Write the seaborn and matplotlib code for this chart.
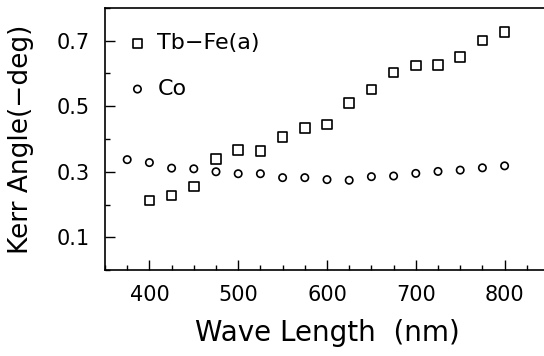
import numpy as np
import pandas as pd
import matplotlib
matplotlib.use('Agg')
import matplotlib.pyplot as plt
from matplotlib.ticker import MultipleLocator
import seaborn as sns

sns.set_style('ticks')
plt.rcParams['font.family'] = ['DejaVu Sans']
plt.rcParams['xtick.direction'] = 'in'
plt.rcParams['ytick.direction'] = 'in'
plt.rcParams['text.color'] = 'black'
plt.rcParams['axes.labelcolor'] = 'black'
plt.rcParams['xtick.color'] = 'black'
plt.rcParams['ytick.color'] = 'black'

# dados
wl_tbfe = [400, 425, 450, 475, 500, 525, 550, 575, 600, 625, 650, 675, 700, 725, 750, 775, 800]
kerr_tbfe = [0.212, 0.227, 0.255, 0.338, 0.367, 0.363, 0.407, 0.434, 0.444, 0.509,
             0.551, 0.603, 0.624, 0.626, 0.651, 0.701, 0.727]
wl_co = [375, 400, 425, 450, 475, 500, 525, 550, 575, 600, 625, 650, 675, 700, 725, 750, 775, 800]
kerr_co = [0.337, 0.328, 0.311, 0.309, 0.300, 0.294, 0.294, 0.282, 0.282, 0.276,
           0.274, 0.285, 0.287, 0.295, 0.301, 0.305, 0.312, 0.318]
nomes = ['Tb−Fe(a)', 'Co']
yticks = [0.1, 0.3, 0.5, 0.7]
xticks = [400, 500, 600, 700, 800]

df_tbfe = pd.DataFrame({'wl': wl_tbfe, 'kerr': kerr_tbfe})
df_co = pd.DataFrame({'wl': wl_co, 'kerr': kerr_co})

fig = plt.figure(figsize=(5.44, 3.56), dpi=100)
ax = fig.add_axes([105/544, 86/356, 444/544, 262/356])

sns.scatterplot(data=df_tbfe, x='wl', y='kerr', marker='s', s=48, fc='none', ec='black',
                linewidth=1.2, label=nomes[0], ax=ax)
sns.scatterplot(data=df_co, x='wl', y='kerr', marker='o', s=28, fc='none', ec='black',
                linewidth=1.2, label=nomes[1], ax=ax)

ax.set_xlim(350, 850)
ax.set_ylim(0.0, 0.8)
ax.set_xticks(xticks)
ax.set_yticks(yticks)
ax.set_yticklabels([str(v) for v in yticks])
ax.xaxis.set_minor_locator(MultipleLocator(25))
ax.yaxis.set_minor_locator(MultipleLocator(0.1))
ax.tick_params(axis='both', which='major', direction='in', length=7, width=1, labelsize=15, pad=11,
               top=False, right=False)
ax.tick_params(axis='both', which='minor', direction='in', length=3.5, width=1,
               top=False, right=False)
for sp in ax.spines.values():
    sp.set_color('black')
    sp.set_linewidth(1.2)

ax.set_xlabel('Wave Length  (nm)', fontsize=20, labelpad=10)
ax.set_ylabel('Kerr Angle(−deg)', fontsize=19, labelpad=16)

ax.legend(loc='upper left', bbox_to_anchor=(-0.012, 1.005), frameon=False, fontsize=16,
          handletextpad=0.4, labelspacing=1.15, borderaxespad=0.8, handlelength=1.0)

plt.savefig('out.png', dpi=100)
